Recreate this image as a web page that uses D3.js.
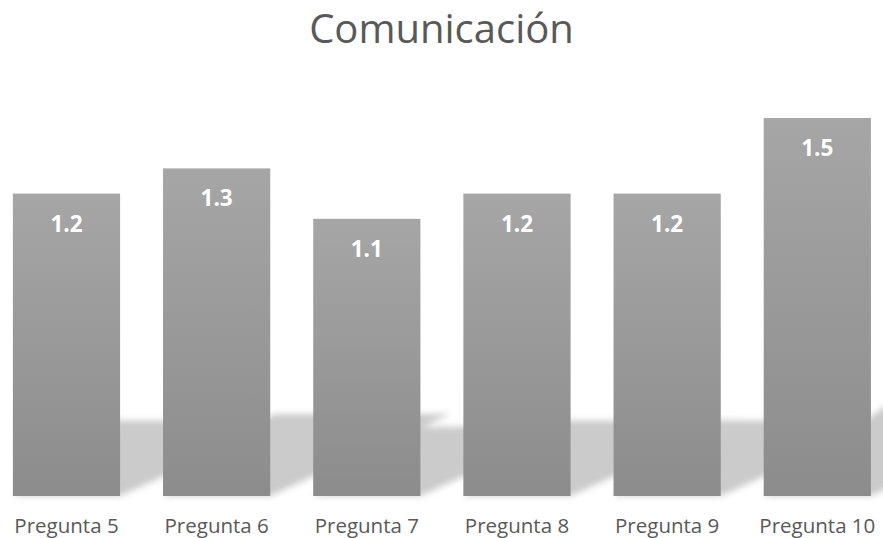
<!DOCTYPE html>
<html>
<head>
<meta charset="utf-8">
<script src="https://cdn.jsdelivr.net/npm/d3@7"></script>
<style>
  html, body { margin: 0; padding: 0; background: #ffffff; }
  svg { display: block; }
</style>
</head>
<body>
<svg id="chart" width="883" height="538"></svg>
<script>
// Data
const titleText = "Comunicación";
const categories = ["Pregunta 5", "Pregunta 6", "Pregunta 7", "Pregunta 8", "Pregunta 9", "Pregunta 10"];
const values = [1.2, 1.3, 1.1, 1.2, 1.2, 1.5];

const W = 883, H = 538;
const baseY = 496;
const svg = d3.select("#chart");

const x = d3.scaleBand()
  .domain(categories)
  .range([-8.6, 892.4])
  .paddingInner(0.286)
  .paddingOuter(0.143);

const y = d3.scaleLinear()
  .domain([0, 1.6])
  .range([baseY, baseY - 1.6 * 252]);

const defs = svg.append("defs");

const grad = defs.append("linearGradient")
  .attr("id", "barFill")
  .attr("x1", 0).attr("y1", 0).attr("x2", 0).attr("y2", 1);
grad.append("stop").attr("offset", "0%").attr("stop-color", "#a6a6a6");
grad.append("stop").attr("offset", "100%").attr("stop-color", "#8c8c8c");

const blur = defs.append("filter")
  .attr("id", "shadowBlur")
  .attr("x", "-20%").attr("y", "-20%").attr("width", "140%").attr("height", "140%");
blur.append("feGaussianBlur").attr("stdDeviation", 3.2);

// Perspective shadows cast up and to the right of each bar
const shadowK = 0.25, leftShear = 1.35, rightShear = 2.2;
svg.append("g")
  .attr("filter", "url(#shadowBlur)")
  .selectAll("polygon")
  .data(categories)
  .join("polygon")
  .attr("fill", "#cbcbcb")
  .attr("points", (d, i) => {
    const x0 = x(d), x1 = x(d) + x.bandwidth();
    const h = (y(0) - y(values[i])) * shadowK;
    return [
      [x0, y(0)],
      [x1, y(0)],
      [x1 + rightShear * h, y(0) - h],
      [x0 + leftShear * h, y(0) - h]
    ].map(p => p.join(",")).join(" ");
  });

// Bars
svg.append("g")
  .selectAll("rect")
  .data(categories)
  .join("rect")
  .attr("x", d => x(d))
  .attr("y", (d, i) => y(values[i]))
  .attr("width", x.bandwidth())
  .attr("height", (d, i) => y(0) - y(values[i]))
  .attr("fill", "url(#barFill)");

// Value labels
svg.append("g")
  .selectAll("text")
  .data(categories)
  .join("text")
  .attr("x", d => x(d) + x.bandwidth() / 2)
  .attr("y", (d, i) => y(values[i]) + 38)
  .attr("text-anchor", "middle")
  .attr("font-family", "'Open Sans', sans-serif")
  .attr("font-weight", "bold")
  .attr("font-size", 22.5)
  .attr("fill", "#ffffff")
  .text((d, i) => values[i].toFixed(1));

// Category axis labels
const xAxis = d3.axisBottom(x).tickSize(0).tickPadding(0);
const ax = svg.append("g")
  .attr("transform", `translate(0,${baseY})`)
  .call(xAxis);
ax.select(".domain").remove();
ax.selectAll("text")
  .attr("dy", null)
  .attr("y", 37)
  .attr("font-family", "'Open Sans', sans-serif")
  .attr("font-size", 20.5)
  .attr("fill", "#595959");

// Title
svg.append("text")
  .attr("x", W / 2)
  .attr("y", 43)
  .attr("text-anchor", "middle")
  .attr("font-family", "'Open Sans', sans-serif")
  .attr("font-size", 40)
  .attr("fill", "#595959")
  .text(titleText);
</script>
</body>
</html>
